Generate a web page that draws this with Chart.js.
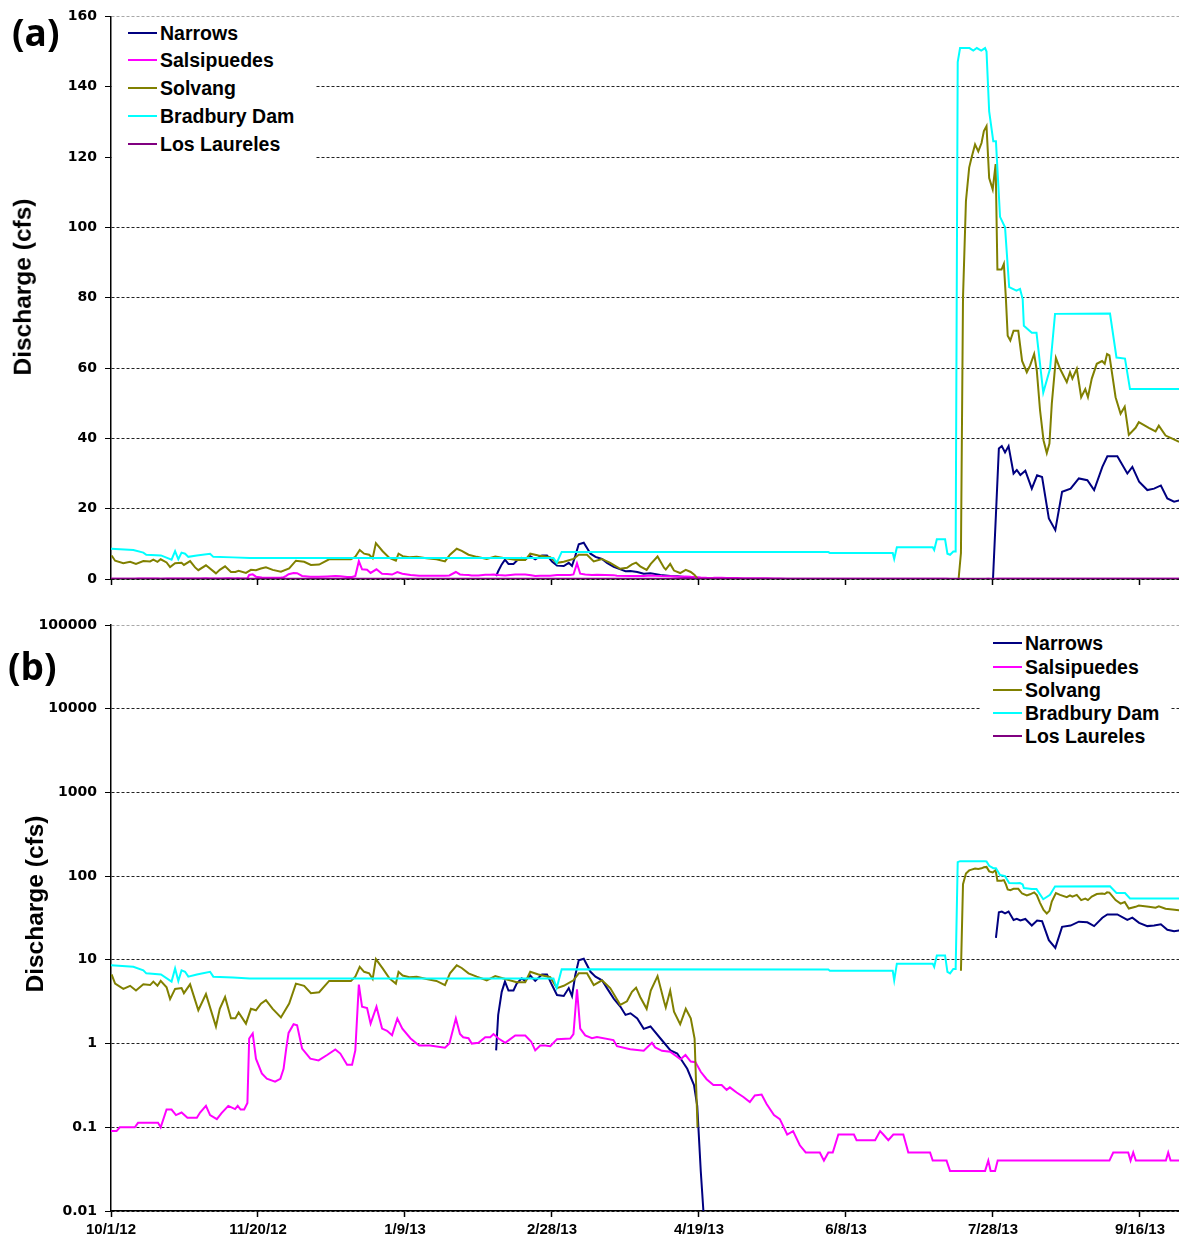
<!DOCTYPE html>
<html>
<head>
<meta charset="utf-8">
<script src="https://cdn.jsdelivr.net/npm/chart.js@4.4.1/dist/chart.umd.min.js"></script>
<style>
  body { margin: 0; background: #fff; width: 1179px; height: 1242px; position: relative; overflow: hidden; font-family: "Liberation Sans", Arial, sans-serif; }
  canvas { position: absolute; left: 0; }
  #chartA { top: 0; }
  #chartB { top: 600px; }
  .legend { position: absolute; background: #fff; }
  .legend .row { position: absolute; left: 0; height: 24px; white-space: nowrap; }
  .legend .swatch { position: absolute; top: 11px; height: 2px; width: 29px; }
  .legend .label { position: absolute; top: 0; line-height: 24px; font-family: "Liberation Sans", Arial, sans-serif; font-weight: bold; font-size: 19.5px; color: #000; }
  .panel { position: absolute; font-family: "Open Sans", sans-serif; font-weight: bold; font-size: 37px; color: #000; line-height: 1; }
  .ytitle { position: absolute; width: 240px; text-align: center; font-weight: bold; font-size: 24.5px; color: #000; transform: translate(-50%, -50%) rotate(-90deg); line-height: 1; white-space: nowrap; }
</style>
</head>
<body>
<canvas id="chartA" width="1179" height="600"></canvas>
<canvas id="chartB" width="1179" height="642"></canvas>
<div class="panel" style="left:12px; top:13px;">(a)</div>
<div class="panel" style="left:8px; top:647px;">(b)</div>
<div class="ytitle" style="left:23px; top:287px;">Discharge (cfs)</div>
<div class="ytitle" style="left:35px; top:904px;">Discharge (cfs)</div>
<div id="legendA" class="legend" style="left:112px; top:17px; width:203px; height:141px;"></div>
<div id="legendB" class="legend" style="left:980px; top:629px; width:190px; height:119px;"></div>
<script>
// series names and colours
const seriesNames = ['Narrows', 'Salsipuedes', 'Solvang', 'Bradbury Dam', 'Los Laureles'];
const seriesColors = ['#000080', '#FF00FF', '#808000', '#00FFFF', '#800080'];

// x axis: days since 10/1/12
const tickDays = [0, 50, 100, 150, 200, 250, 300, 350];
const tickLabels = ['10/1/12', '11/20/12', '1/9/13', '2/28/13', '4/19/13', '6/8/13', '7/28/13', '9/16/13'];
const linearTicks = [0, 20, 40, 60, 80, 100, 120, 140, 160];
const logTicks = [0.01, 0.1, 1, 10, 100, 1000, 10000, 100000];

// Narrows
const narrowsDays = [131, 131.7, 132.9, 134, 135.2, 136.9, 138, 139.7, 140.9, 142.6, 144.3, 146.6, 148.3, 150, 151.7, 154, 155.7, 156.8, 157.9, 159.1, 160.8, 163.1, 164.8, 167, 168.7, 171, 173.3, 175, 176.7, 179, 181.2, 183.5, 186.9, 190.3, 192.6, 196, 198.3, 199.4, 200.6, 201.5, 202, 300, 301, 302, 303, 304.1, 305.3, 307, 308.1, 309.3, 311, 313.2, 315, 316.7, 319, 321.2, 323.5, 326.4, 329.2, 332.1, 334.4, 337.2, 338.9, 342.3, 345.7, 347.4, 349.7, 352.5, 354.8, 357.1, 359.3, 361.6, 363.5];
const narrowsCfs = [0.83, 2.2, 4.15, 5.5, 4.3, 4.3, 5.2, 6.0, 5.6, 6.5, 5.6, 6.7, 6.7, 5.0, 3.8, 3.7, 4.6, 3.7, 6.5, 9.9, 10.3, 7.2, 6.3, 5.7, 4.6, 3.45, 2.75, 2.2, 2.3, 2.0, 1.5, 1.6, 1.15, 0.83, 0.76, 0.5, 0.32, 0.18, 0.03, 0.01, 0, 0, 18.3, 37.1, 37.8, 36, 37.8, 30, 31, 29.6, 30.8, 25.7, 29.5, 29, 17.2, 13.9, 24.8, 25.7, 28.6, 28.1, 25.3, 31.9, 34.9, 34.9, 30, 31.9, 27.7, 25.3, 25.7, 26.6, 22.9, 22, 22.4];

// Salsipuedes
const salsDays = [0, 1.9, 3, 8.1, 9.2, 16, 16.9, 18.9, 20.6, 22.1, 24, 26, 29.2, 30.3, 32.3, 33.7, 36, 37.6, 39.9, 42.2, 43.1, 44.1, 45.3, 46.4, 47, 48.2, 49.3, 51.3, 53, 55.8, 57.6, 58.7, 59.6, 60.4, 62.1, 63.3, 65, 67.8, 70.6, 73.5, 76.3, 78, 80.3, 82, 83.1, 84.3, 85.4, 87.1, 88.3, 90.3, 92.2, 93.9, 95.6, 97.4, 99.1, 101.9, 104.8, 108.5, 113.6, 115.1, 117.3, 118.7, 119.8, 121.6, 122.7, 125, 127.3, 129, 130.1, 131.8, 134.1, 135.8, 137.5, 140.9, 142.9, 144.3, 146, 147.7, 149.4, 151.7, 156.2, 157.3, 158.5, 159.6, 161.3, 163.6, 165.3, 170.9, 172.1, 176.6, 181.2, 184, 185.1, 187.4, 190.2, 193.7, 195.4, 197.2, 198.8, 200.6, 202.6, 204.9, 207.7, 209.4, 210.5, 212.8, 215.1, 217.3, 219, 221.3, 223, 225.5, 227.5, 230, 232, 234.3, 236.3, 241.1, 242.5, 244, 245.5, 247.4, 252.7, 253.6, 259.9, 261.6, 262.7, 264.4, 266.1, 269.5, 271.2, 278.6, 279.5, 284.2, 285.4, 297.3, 298.4, 299.2, 300.7, 301.6, 339.6, 340.9, 346, 346.8, 347.7, 348.6, 358.8, 359.6, 360.4, 363.3];
const salsCfs = [0.09, 0.09, 0.10, 0.10, 0.113, 0.113, 0.10, 0.163, 0.163, 0.14, 0.15, 0.13, 0.13, 0.15, 0.18, 0.14, 0.125, 0.148, 0.18, 0.165, 0.18, 0.163, 0.163, 0.195, 1.15, 1.32, 0.66, 0.44, 0.38, 0.35, 0.38, 0.50, 0.87, 1.34, 1.70, 1.65, 0.87, 0.66, 0.63, 0.73, 0.85, 0.76, 0.56, 0.56, 0.83, 5.07, 2.75, 2.65, 1.73, 2.75, 1.51, 1.42, 1.26, 1.99, 1.51, 1.15, 0.95, 0.95, 0.89, 1.0, 1.99, 1.3, 1.19, 1.16, 1.0, 1.02, 1.19, 1.19, 1.3, 1.15, 1.02, 1.13, 1.25, 1.25, 1.06, 0.83, 0.95, 0.95, 0.93, 1.13, 1.15, 1.3, 4.45, 1.51, 1.25, 1.16, 1.2, 1.1, 0.93, 0.855, 0.82, 1.02, 0.9, 0.82, 0.80, 0.65, 0.73, 0.61, 0.6, 0.46, 0.375, 0.32, 0.32, 0.28, 0.30, 0.26, 0.23, 0.20, 0.24, 0.246, 0.19, 0.14, 0.125, 0.082, 0.09, 0.061, 0.05, 0.05, 0.04, 0.05, 0.05, 0.082, 0.082, 0.07, 0.07, 0.09, 0.082, 0.07, 0.082, 0.082, 0.05, 0.05, 0.04, 0.04, 0.03, 0.03, 0.04, 0.03, 0.03, 0.04, 0.04, 0.05, 0.05, 0.04, 0.05, 0.04, 0.04, 0.05, 0.04, 0.04];

// Solvang
const solvangDays = [0.2, 1.4, 4.2, 6.5, 8.5, 11, 13.3, 14.4, 15.8, 16.9, 18.9, 20.1, 21.8, 24, 24.8, 26.9, 28.6, 29.7, 32.3, 35.7, 37, 38.8, 40.8, 42.3, 43.4, 45.9, 47.6, 49.3, 51, 52.7, 55, 57.8, 60.6, 62.9, 65.7, 68, 70.8, 74.2, 77.6, 81.6, 83.1, 84.6, 86.1, 87.8, 89, 90.1, 92.4, 94.7, 96.9, 97.8, 99.2, 101.5, 104, 107.3, 110.7, 113.6, 115.3, 117.6, 119.3, 121.6, 124.4, 127.8, 130.7, 133.5, 138, 140.9, 142.6, 145.4, 149.4, 151.7, 154, 157.3, 159.1, 161.9, 164.2, 167, 169.8, 173.2, 175.5, 177.2, 178.6, 180, 182.2, 183.6, 185.9, 188.1, 188.7, 190.2, 191.5, 193.6, 195.5, 197.2, 198.5, 199.5, 200.5, 288.3, 289.1, 289.8, 290.8, 291.9, 292.7, 293.9, 295, 296.1, 296.9, 297.8, 298.7, 299.9, 300.9, 301.5, 302.9, 303.7, 304.4, 305, 305.9, 307, 308.6, 309.9, 311.5, 312.6, 314, 314.9, 316, 317.2, 318.3, 319.2, 320, 321.4, 322.8, 325.1, 326.2, 327, 328.5, 330, 331.4, 332.3, 333.6, 335.3, 337.1, 338, 338.8, 339.6, 341.7, 343.4, 344.8, 346.2, 348.5, 349.6, 353, 355.3, 356.4, 358.7, 361, 363.3];
const solvangCfs = [6.7, 5.2, 4.5, 4.9, 4.3, 5.1, 5.0, 5.5, 4.9, 5.6, 4.7, 3.4, 4.5, 4.6, 4.0, 5.1, 3.3, 2.5, 3.9, 1.6, 2.6, 3.6, 2.0, 2.0, 2.35, 1.73, 2.6, 2.5, 3.0, 3.3, 2.6, 2.05, 3.0, 5.2, 4.9, 4.0, 4.1, 5.6, 5.6, 5.6, 6.3, 8.25, 7.2, 6.9, 5.9, 10.2, 7.9, 6.0, 5.2, 7.2, 6.5, 6.2, 6.3, 5.9, 5.6, 5.0, 6.9, 8.6, 8.0, 6.9, 6.3, 5.7, 6.4, 6.0, 5.4, 5.4, 7.2, 6.7, 6.2, 4.6, 4.9, 5.7, 6.9, 6.9, 5.0, 5.7, 4.6, 2.9, 3.2, 4.15, 4.65, 3.6, 2.6, 4.3, 6.4, 3.2, 2.7, 4.3, 2.4, 1.7, 2.6, 2.0, 1.15, 0.1, 0, 0, 7.4, 80, 107.5, 117, 119.8, 123.6, 121.6, 124, 127.4, 128.8, 114, 110.8, 118, 88, 88, 89.6, 79.6, 69.2, 67.8, 70.6, 70.6, 62, 58.8, 60.7, 64, 59.3, 48, 39.4, 35.8, 38.5, 49.8, 62.9, 59.8, 56, 58.8, 57, 59.8, 51.7, 54, 51.7, 57, 61.2, 62, 61.2, 64, 63.6, 51.7, 47, 49, 41, 43, 44.6, 43, 42, 43.6, 40.8, 39.9, 39];

// Bradbury Dam
const bradburyDays = [0, 7.6, 11, 12, 17, 20.6, 21.8, 22.9, 24, 25.2, 26.3, 29.2, 33.7, 34.8, 41.5, 47.2, 150.5, 151.6, 153.3, 244, 244.5, 265.9, 266.4, 267.3, 279.5, 280, 280.9, 283.7, 284.5, 285.4, 286.5, 287.3, 288, 288.8, 292, 293.3, 294.5, 296, 297.3, 297.8, 298.7, 300.1, 301, 302.4, 304.1, 305.5, 308, 309.2, 310.1, 310.5, 313.2, 314.8, 317.1, 319.4, 321.1, 339.8, 342, 344.9, 346.6, 363.3];
const bradburyCfs = [8.6, 8.25, 7.5, 6.9, 6.7, 5.5, 7.9, 5.6, 7.5, 7.2, 6.3, 6.7, 7.2, 6.3, 6.15, 6.0, 6.0, 4.6, 7.7, 7.65, 7.4, 7.4, 5.7, 9.0, 9.0, 8.25, 11.3, 11.3, 7.2, 6.9, 7.8, 7.8, 147, 151, 151, 150.3, 151, 150.3, 151, 150, 133, 124.5, 124.5, 103, 100, 83, 82, 82.5, 79.6, 72, 70, 70, 53, 59.8, 75.4, 75.5, 63, 62.7, 54, 54];

// Los Laureles
const laurelesDays = [0, 363.3];
const laurelesCfs = [0, 0];

const seriesDays = [narrowsDays, salsDays, solvangDays, bradburyDays, laurelesDays];
const seriesCfs = [narrowsCfs, salsCfs, solvangCfs, bradburyCfs, laurelesCfs];

// zero flow cannot sit on a log axis, leave a gap there
function toPoints(days, cfs, isLog) {
    return days.map((d, i) => ({ x: d, y: (isLog && cfs[i] <= 0) ? null : cfs[i] }));
}

function buildDatasets(isLog) {
    return seriesNames.map((name, i) => ({
        label: name,
        data: toPoints(seriesDays[i], seriesCfs[i], isLog),
        borderColor: seriesColors[i],
        backgroundColor: seriesColors[i],
        borderWidth: i === 4 ? 2.5 : 2,
        pointRadius: 0,
        tension: 0,
        spanGaps: false,
        order: seriesNames.length - i
    }));
}

function buildOptions(isLog) {
    const tickFont = { family: 'DejaVu Sans', weight: 'bold', size: 14 };
    return {
        responsive: false,
        animation: false,
        events: [],
        layout: { padding: { top: isLog ? 25 : 15, left: 0, right: 0, bottom: 0 }, autoPadding: false },
        plugins: { legend: { display: false }, tooltip: { enabled: false } },
        scales: {
            x: {
                type: 'linear',
                min: 0,
                max: 363.27,
                afterBuildTicks: s => { s.ticks = tickDays.map(v => ({ value: v })); },
                afterFit: s => { s.height = isLog ? 31 : 21; },
                grid: { drawOnChartArea: false, drawTicks: true, tickLength: 6, tickColor: '#000', tickWidth: 1.5 },
                border: { color: '#000', width: 1.5 },
                ticks: {
                    color: '#000',
                    padding: 4,
                    maxRotation: 0,
                    autoSkip: false,
                    font: { family: 'Liberation Sans', weight: 'bold', size: 15 },
                    callback: (v, i) => isLog ? tickLabels[i] : ''
                }
            },
            y: {
                type: isLog ? 'logarithmic' : 'linear',
                min: isLog ? 0.01 : 0,
                max: isLog ? 100000 : 160,
                afterBuildTicks: s => { s.ticks = (isLog ? logTicks : linearTicks).map(v => ({ value: v })); },
                afterFit: s => { s.width = 111; },
                grid: {
                    color: c => (c.tick && c.tick.value === (isLog ? 100000 : 160)) ? '#a8a8a8' : '#222',
                    lineWidth: 1,
                    drawTicks: true,
                    tickLength: 6,
                    tickColor: '#000'
                },
                border: { color: '#000', width: 1.5, dash: [3, 2] },
                ticks: {
                    color: '#000',
                    padding: 8,
                    font: tickFont,
                    callback: v => String(v)
                }
            }
        }
    };
}

new Chart(document.getElementById('chartA'), { type: 'line', data: { datasets: buildDatasets(false) }, options: buildOptions(false) });
new Chart(document.getElementById('chartB'), { type: 'line', data: { datasets: buildDatasets(true) }, options: buildOptions(true) });

// legends as plain text boxes over the plot
function buildLegend(id, rowTops, swatchLeft) {
    const box = document.getElementById(id);
    const boxLeft = parseFloat(box.style.left);
    const boxTop = parseFloat(box.style.top);
    seriesNames.forEach((name, i) => {
        const row = document.createElement('div');
        row.className = 'row';
        row.style.top = (rowTops[i] - boxTop - 12) + 'px';
        const sw = document.createElement('div');
        sw.className = 'swatch';
        sw.style.left = (swatchLeft - boxLeft) + 'px';
        sw.style.background = seriesColors[i];
        const lb = document.createElement('div');
        lb.className = 'label';
        lb.style.left = (swatchLeft - boxLeft + 32) + 'px';
        lb.textContent = name;
        row.appendChild(sw);
        row.appendChild(lb);
        box.appendChild(row);
    });
}
buildLegend('legendA', [33, 60, 88, 116, 144], 128);
buildLegend('legendB', [643, 667, 690, 713, 736], 993);
</script>
</body>
</html>
